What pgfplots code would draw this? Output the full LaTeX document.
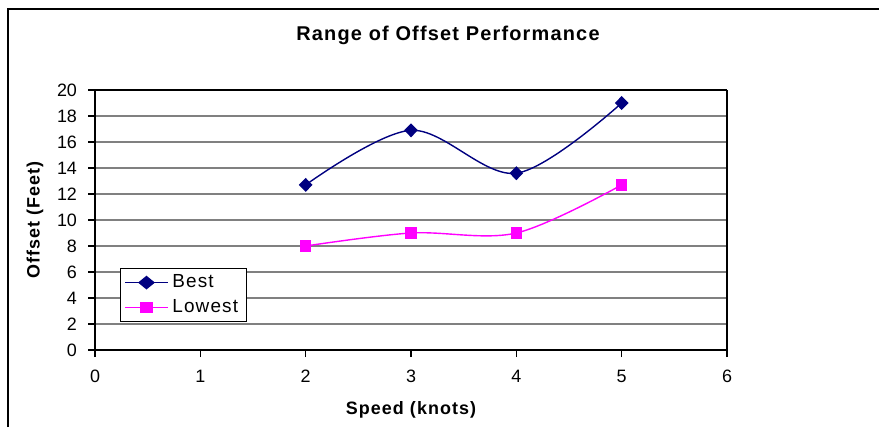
\documentclass[border=0pt]{standalone}
\usepackage{fontspec}
\setmainfont{Liberation Sans}
\usepackage{pgfplots}
\pgfplotsset{compat=1.18}

\definecolor{bestc}{RGB}{0,0,128}
\definecolor{lowc}{RGB}{255,0,255}
\definecolor{gridc}{RGB}{128,128,128}

\begin{document}
\begin{tikzpicture}[x=1bp,y=1bp]
  \useasboundingbox (0,0) rectangle (439.5,213.5);
  % chart frame (cut at right and bottom)
  \draw[black, line width=0.6bp] (4,0) -- (4,209) -- (439.5,209);

  \node[font=\fontsize{10}{12}\selectfont\bfseries\addfontfeatures{LetterSpace=6}] at (224,196) {Range of Offset Performance};

\begin{axis}[
  at={(47.5bp,38.5bp)}, anchor=south west,
  scale only axis,
  width=316bp, height=130bp,
  xmin=0, xmax=6, ymin=0, ymax=20,
  xtick={0,...,6}, ytick={0,2,...,20},
  ymajorgrids,
  grid style={gridc, line width=0.7bp},
  axis line style={gridc, line width=0.7bp},
  separate axis lines,
  x axis line style={black},
  y axis line style={black},
  tick style={black, line width=0.6bp},
  tick align=outside,
  major tick length=3.5bp,
  xtick pos=bottom, ytick pos=left,
  /pgf/number format/assume math mode=true,
  ticklabel style={font=\fontsize{9}{11}\selectfont},
  xticklabel style={yshift=-3bp},
  yticklabel style={xshift=-2bp},
  xlabel={Speed (knots)},
  ylabel={Offset (Feet)},
  label style={font=\fontsize{9}{11}\selectfont\bfseries\addfontfeatures{LetterSpace=6}},
  xlabel style={yshift=-2.5bp},
  ylabel style={yshift=0bp},
  legend style={at={(0.0396,0.315)}, anchor=north west,
    draw=black, line width=0.5bp,
    font=\fontsize{9.5}{11}\selectfont\addfontfeatures{LetterSpace=6},
    inner xsep=2bp, inner ysep=1bp, row sep=0.5bp,
    /tikz/every even column/.append style={column sep=1bp}},
  legend image post style={xscale=1.25},
  legend cell align=left,
  every axis plot/.append style={line width=0.7bp},
]
\addplot[bestc, smooth, tension=0.55, mark=diamond*, mark size=3bp,
  mark options={fill=bestc, xscale=1.3}] coordinates {
  (2,12.7) (3,16.9) (4,13.6) (5,19.0)
};
\addlegendentry{Best}
\addplot[lowc, smooth, tension=0.55, mark=square*, mark size=2.5bp,
  mark options={fill=lowc}] coordinates {
  (2,8.0) (3,9.0) (4,9.0) (5,12.7)
};
\addlegendentry{Lowest}
\end{axis}
\end{tikzpicture}
\end{document}
